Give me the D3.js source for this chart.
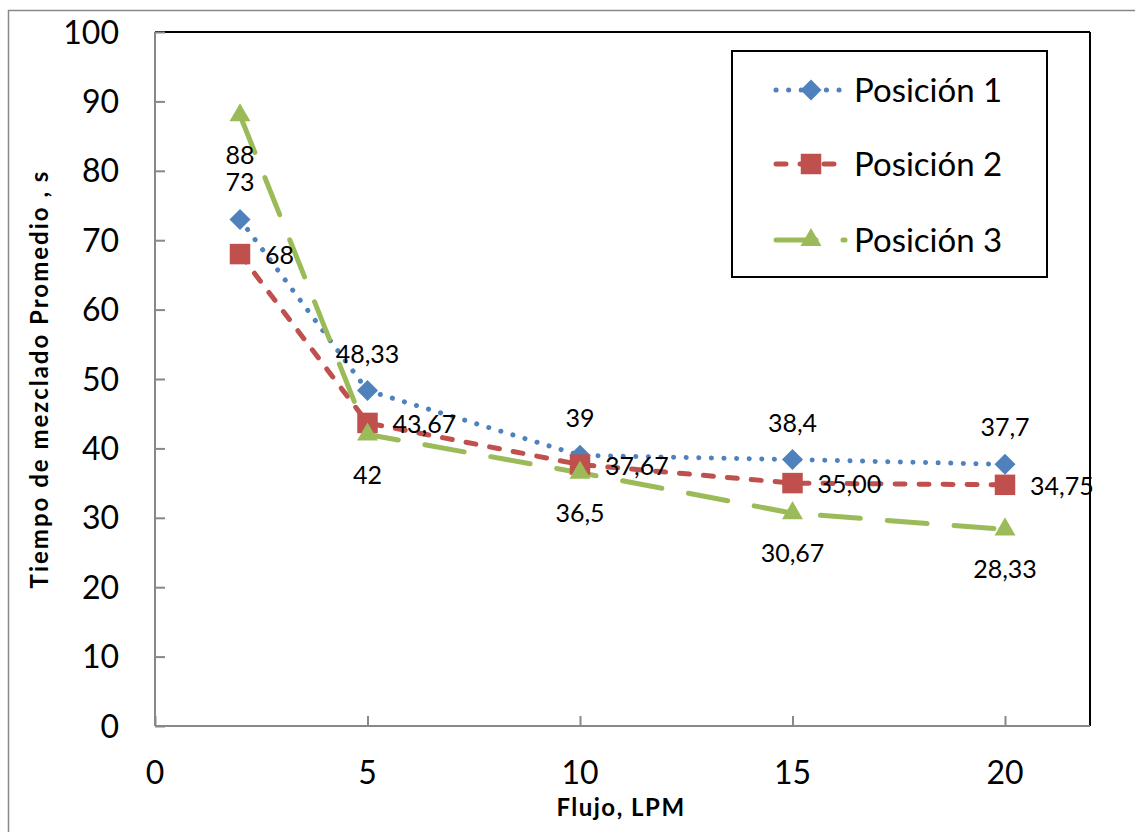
<!DOCTYPE html>
<html>
<head>
<meta charset="utf-8">
<script src="https://cdn.jsdelivr.net/npm/d3@7"></script>
<style>
  body { margin: 0; background: #fff; }
  svg text { font-family: Lato, "Open Sans", sans-serif; }
</style>
</head>
<body>
<div id="chart"></div>
<script>
// data
var flujo = [2, 5, 10, 15, 20];
var pos1 = [73, 48.33, 39, 38.4, 37.7];
var pos2 = [68, 43.67, 37.67, 35.00, 34.75];
var pos3 = [88, 42, 36.5, 30.67, 28.33];
var lab1 = ["73", "48,33", "39", "38,4", "37,7"];
var lab2 = ["68", "43,67", "37,67", "35,00", "34,75"];
var lab3 = ["88", "42", "36,5", "30,67", "28,33"];
var seriesNames = ["Posición 1", "Posición 2", "Posición 3"];
var xTicks = [0, 5, 10, 15, 20];
var yTicks = [0, 10, 20, 30, 40, 50, 60, 70, 80, 90, 100];

var W = 1135, H = 832;
var margin = {top: 32, right: 45, bottom: 106, left: 155},
    width = W - margin.left - margin.right,
    height = H - margin.top - margin.bottom;

var svgRoot = d3.select("#chart").append("svg")
    .attr("width", W).attr("height", H);

// outer chart border
svgRoot.append("rect")
    .attr("x", 8.5).attr("y", 10.5)
    .attr("width", 1140).attr("height", 840)
    .attr("fill", "none").attr("stroke", "#888").attr("stroke-width", 1.5);

var svg = svgRoot.append("g")
    .attr("transform", "translate(" + margin.left + "," + margin.top + ")");

var x = d3.scaleLinear().domain([0, 22]).range([0, width]);
var y = d3.scaleLinear().domain([0, 100]).range([height, 0]);

// plot frame: top and right black
svg.append("line").attr("x1", 0).attr("x2", width).attr("y1", 0).attr("y2", 0)
    .attr("stroke", "#000").attr("stroke-width", 2);
svg.append("line").attr("x1", width).attr("x2", width).attr("y1", 0).attr("y2", height)
    .attr("stroke", "#000").attr("stroke-width", 2);

// axes
var yAxis = svg.append("g")
    .call(d3.axisRight(y).tickValues(yTicks).tickSize(10).tickFormat(""));
yAxis.selectAll("path, line").attr("stroke", "#888").attr("stroke-width", 2);
yAxis.select(".domain").attr("d", "M0," + height + "V0");
svg.selectAll(".ylab").data(yTicks).enter().append("text")
    .attr("class", "ylab")
    .attr("x", -36).attr("y", function(d) { return y(d); })
    .attr("dy", "0.36em").attr("text-anchor", "end")
    .style("font-size", "32px").text(function(d) { return d; });

var xAxis = svg.append("g")
    .attr("transform", "translate(0," + height + ")")
    .call(d3.axisTop(x).tickValues(xTicks).tickSize(10).tickFormat(""));
xAxis.selectAll("path, line").attr("stroke", "#888").attr("stroke-width", 2);
xAxis.select(".domain").attr("d", "M0,0H" + width);
svg.selectAll(".xlab").data(xTicks).enter().append("text")
    .attr("class", "xlab")
    .attr("x", function(d) { return x(d); }).attr("y", height + 58)
    .attr("text-anchor", "middle")
    .style("font-size", "32px").text(function(d) { return d; });

// axis titles
svg.append("text")
    .attr("x", 466).attr("y", height + 90)
    .attr("text-anchor", "middle")
    .style("font-size", "24px").style("font-weight", "bold")
    .style("letter-spacing", "1.5px")
    .text("Flujo, LPM");
svg.append("text")
    .attr("transform", "translate(-107," + 347 + ") rotate(-90)")
    .attr("text-anchor", "middle")
    .style("font-size", "24px").style("font-weight", "bold")
    .style("letter-spacing", "2px")
    .text("Tiempo de mezclado Promedio , s");

var diamond = {
  draw: function(ctx, size) {
    var r = Math.sqrt(size) / 2;
    ctx.moveTo(0, -r); ctx.lineTo(r, 0); ctx.lineTo(0, r); ctx.lineTo(-r, 0); ctx.closePath();
  }
};

var series = [
  {name: seriesNames[0], vals: pos1, labs: lab1, color: "#4F81BD", dash: "0.1 12.5", shape: diamond, size: 441, dx: 0, dy: -37, anchor: "middle"},
  {name: seriesNames[1], vals: pos2, labs: lab2, color: "#C0504D", dash: "10 14", shape: d3.symbolSquare, size: 420, dx: 25, dy: 1, anchor: "start"},
  {name: seriesNames[2], vals: pos3, labs: lab3, color: "#9BBB59", dash: "40 27", shape: d3.symbolTriangle, size: 190, dx: 0, dy: 40, anchor: "middle"}
];

var line = d3.line()
    .x(function(d) { return x(d[0]); })
    .y(function(d) { return y(d[1]); });

series.forEach(function(s) {
  var pts = flujo.map(function(f, i) { return [f, s.vals[i]]; });
  svg.append("path")
    .datum(pts)
    .attr("d", line)
    .attr("fill", "none")
    .attr("stroke", s.color)
    .attr("stroke-width", 5)
    .attr("stroke-linecap", "round")
    .attr("stroke-dasharray", s.dash);
});

series.forEach(function(s) {
  var pts = flujo.map(function(f, i) { return [f, s.vals[i]]; });
  svg.append("g").selectAll("path")
    .data(pts).enter().append("path")
    .attr("transform", function(d) { return "translate(" + x(d[0]) + "," + y(d[1]) + ")"; })
    .attr("d", d3.symbol().type(s.shape).size(s.size))
    .attr("fill", s.color);
});

// data labels
series.forEach(function(s) {
  svg.append("g").selectAll("text")
    .data(flujo).enter().append("text")
    .attr("x", function(d) { return x(d) + s.dx; })
    .attr("y", function(d, i) { return y(s.vals[i]) + s.dy; })
    .attr("dy", "0.36em")
    .attr("text-anchor", s.anchor)
    .style("font-size", "25px")
    .text(function(d, i) { return s.labs[i]; });
});

// legend
var leg = svgRoot.append("g").attr("transform", "translate(732,51)");
leg.append("rect").attr("width", 315).attr("height", 226)
    .attr("fill", "#fff").attr("stroke", "#000").attr("stroke-width", 2);
var rowY = [39, 113, 189];
series.forEach(function(s, i) {
  var g = leg.append("g").attr("transform", "translate(0," + rowY[i] + ")");
  g.append("line").attr("x1", 44).attr("x2", 113).attr("y1", 0).attr("y2", 0)
    .attr("stroke", s.color).attr("stroke-width", 5)
    .attr("stroke-linecap", "round").attr("stroke-dasharray", s.dash);
  g.append("path").attr("transform", "translate(79,0)")
    .attr("d", d3.symbol().type(s.shape).size(s.size)).attr("fill", s.color);
  g.append("text").attr("x", 122).attr("y", 0).attr("dy", "0.36em")
    .style("font-size", "33px").text(s.name);
});
</script>
</body>
</html>
